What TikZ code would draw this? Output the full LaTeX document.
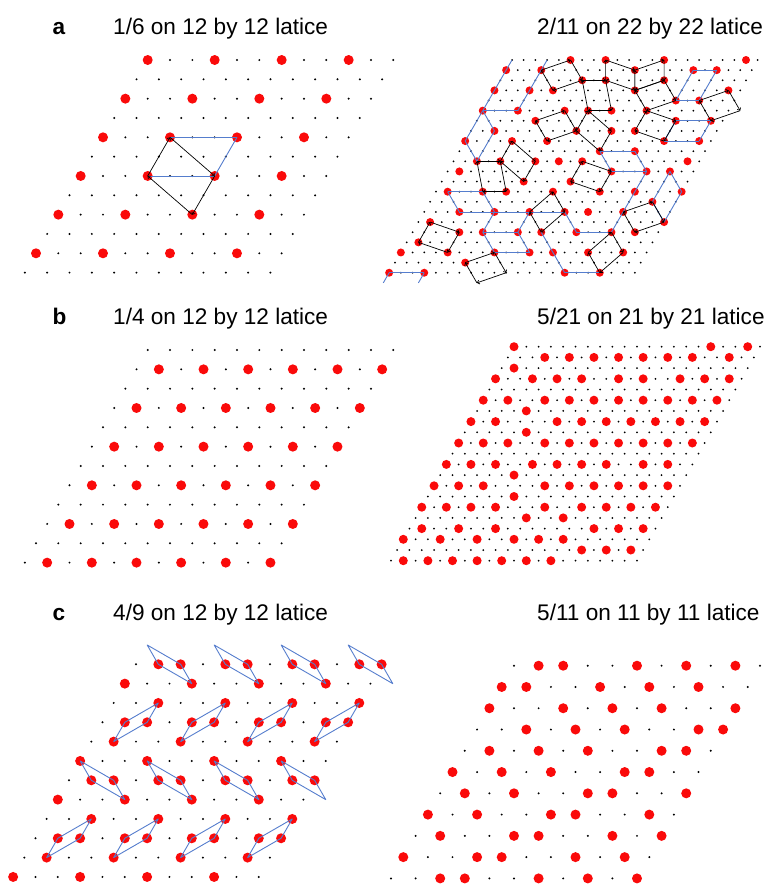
\documentclass[tikz,border=0pt]{standalone}
\usepackage{fontspec}
\setmainfont{Liberation Sans}
\usetikzlibrary{arrows.meta}
\definecolor{sitered}{RGB}{250,10,10}
\definecolor{chainblue}{RGB}{85,125,205}

\begin{document}
\begin{tikzpicture}[x=1pt,y=-1pt,
    title/.style={anchor=base west, inner sep=0pt, font=\fontsize{22.6}{26}\selectfont},
    tag/.style={anchor=base west, inner sep=0pt, font=\fontsize{22.6}{26}\selectfont\bfseries},
    loopline/.style={draw=black, line width=0.7pt, -{Straight Barb[length=2pt,width=4pt]}},
    chain/.style={draw=chainblue, line width=0.9pt, line join=round}
]
\useasboundingbox (0,0) rectangle (767,884);

\node[tag] (tagA) at (52.5,34) {a};
\node[title] (titleAL) at (113,34) {1/6 on 12 by 12 latice};
\node[title] (titleAR) at (537,34) {2/11 on 22 by 22 latice};
\node[tag] (tagB) at (52.5,324) {b};
\node[title] (titleBL) at (113,324) {1/4 on 12 by 12 latice};
\node[title] (titleBR) at (537,324) {5/21 on 21 by 21 latice};
\node[tag] (tagC) at (52.5,620.5) {c};
\node[title] (titleCL) at (113,620.5) {4/9 on 12 by 12 latice};
\node[title] (titleCR) at (537,620.5) {5/11 on 11 by 11 latice};

% a, 12 by 12
\begin{scope}[shift={(147.7,60)}, x={(22.33pt,0pt)}, y={(-11.17pt,-19.33pt)}]
\foreach \r in {0,...,11} \foreach \i in {0,...,11} {
  \coordinate (aL-\r-\i) at (\i,\r);
  \fill (aL-\r-\i) circle[radius=1.1pt];
}
\foreach \r in {0,2,...,10} \foreach \i in {0,3,6,9} \fill[sitered] (aL-\r-\i) circle[radius=5pt];
\foreach \p/\q in {4-3/4-6, 4-6/6-6, 6-6/6-3} \draw[chain] (aL-\p) -- (aL-\q);
\foreach \p/\q in {4-3/6-6, 6-6/8-6, 8-6/6-3, 6-3/4-3} \draw[loopline] (aL-\p) -- (aL-\q);
\end{scope}

% a, 22 by 22
\begin{scope}[shift={(512,60)}, x={(11.7pt,0pt)}, y={(-5.85pt,-10.13pt)}]
\foreach \r in {0,...,22} \foreach \i in {0,...,22} \coordinate (aR-\r-\i) at (\i,\r);
\foreach \r in {0,...,21} \foreach \i in {0,...,21} \fill (aR-\r-\i) circle[radius=1pt];
\foreach \r/\cols in {0/{5,8,13,20}, 1/{0,3,11,16,18}, 2/{7,9,14}, 3/{0,3,5,12,20},
    4/{16,18}, 5/{0,3,7,9,11,14}, 6/{5,17,20}, 7/{2,9,12,14}, 8/{0,4,7,17,20},
    9/{12,15}, 10/{2,4,7,9,11,20}, 11/{1,14,17,19}, 12/{7,11}, 13/{1,4,6,10,14,17,21},
    14/{19}, 15/{3,6,9,12,14,17}, 16/{1,21}, 17/{4,6,9,11,14,17,19}, 18/{1},
    19/{0,4,8,11,13,16,19}, 20/{6}, 21/{0,3,15,18}}
  {\foreach \i in \cols \fill[sitered] (aR-\r-\i) circle[radius=4pt];}
\foreach \p/\q in {0-0/5-0, 5-0/5-3, 5-3/0-3, 21-0/21-3, 21-0/22-0, 21-3/22-3,
    5-0/7-2, 7-2/10-2, 10-2/8-0, 8-0/5-0,
    1-16/1-18, 1-18/4-18, 4-18/4-16, 4-16/1-16,
    6-17/6-20, 6-20/8-20, 8-20/8-17, 8-17/6-17,
    9-12/9-15, 9-15/11-17, 11-17/11-14, 11-14/9-12,
    11-17/17-17, 17-17/17-14, 17-14/15-12,
    11-19/13-21, 13-21/16-21, 16-21/14-19, 14-19/11-19,
    13-1/13-4, 13-4/15-6, 15-6/15-3, 15-3/13-1,
    15-6/15-9, 15-9/15-12, 15-6/17-6, 17-6/17-9, 17-9/15-9,
    17-9/19-11, 19-11/19-8, 19-8/17-6,
    17-11/21-15, 21-15/21-18}
  \draw[chain] (aR-\p) -- (aR-\q);
\foreach \p/\q/\s/\t in {1-3/0-5/2-7/3-5, 0-8/1-11/3-12/2-9, 1-11/0-13/2-14/3-12,
    4-18/3-20/5-22/6-20, 5-14/6-17/8-17/7-14, 10-2/10-4/13-6/13-4,
    15-9/13-10/15-12/17-11, 16-1/17-4/19-4/18-1, 20-6/19-8/21-10/22-8,
    10-11/11-14/13-14/12-11, 15-17/14-19/16-21/17-19, 19-16/17-17/19-19/21-18,
    6-5/5-7/7-9/8-7, 8-4/10-7/12-7/10-4, 2-7/2-9/5-11/5-9, 5-9/7-12/9-12/7-9,
    3-12/2-14/4-16/5-14}
  {\draw[loopline] (aR-\p) -- (aR-\q);
   \draw[loopline] (aR-\q) -- (aR-\s);
   \draw[loopline] (aR-\s) -- (aR-\t);
   \draw[loopline] (aR-\t) -- (aR-\p);}
\end{scope}

% b, 12 by 12
\begin{scope}[shift={(147.7,350)}, x={(22.33pt,0pt)}, y={(-11.17pt,-19.33pt)}]
\foreach \r in {0,...,11} \foreach \i in {0,...,11} {
  \coordinate (bL-\r-\i) at (\i,\r);
  \fill (bL-\r-\i) circle[radius=1.1pt];
}
\foreach \r in {1,3,...,11} \foreach \i in {1,3,...,11} \fill[sitered] (bL-\r-\i) circle[radius=5pt];
\end{scope}

% b, 21 by 21
\begin{scope}[shift={(514,346.7)}, x={(12.3pt,0pt)}, y={(-6.15pt,-10.7pt)}]
\foreach \r in {0,...,20} \foreach \i in {0,...,20} {
  \coordinate (bR-\r-\i) at (\i,\r);
  \fill (bR-\r-\i) circle[radius=1pt];
}
\foreach \r/\cols in {0/{0,16,19}, 1/{3,5,7,9,11,13,15,18}, 2/{1}, 3/{0,3,5,7,10,12,15,17,19},
    5/{0,2,5,7,9,11,13,15,17,19}, 6/{4}, 7/{0,2,7,9,11,13,15,17,19}, 8/{5},
    9/{0,2,4,7,9,11,13,15,17,19}, 11/{0,2,4,7,9,11,13,16,18}, 12/{6},
    13/{0,2,4,9,11,13,15,17,19}, 14/{7}, 15/{0,2,4,6,10,13,15,17,19}, 16/{9,12},
    17/{1,4,7,15,17,19}, 18/{0,3,6,9,11,13}, 19/{15,17,19}, 20/{1,3,5,7,9,11,13}}
  {\foreach \i in \cols \fill[sitered] (bR-\r-\i) circle[radius=4.5pt];}
\end{scope}

% c, 12 by 12
\begin{scope}[shift={(136,664.3)}, x={(22.33pt,0pt)}, y={(-11.17pt,-19.33pt)}]
\foreach \r in {0,...,11} \foreach \i in {0,...,12} \coordinate (cL-\r-\i) at (\i,\r);
\foreach \i in {0,3,6,9} \coordinate (cL-top-\i) at (\i,-1);
\foreach \r in {0,...,11} \foreach \i in {0,...,11} \fill (cL-\r-\i) circle[radius=1.1pt];
\foreach \r/\cols in {0/{1,2,4,5,7,8,10,11}, 1/{0,3,6,9}, 2/{2,5,8,11}, 3/{1,2,4,5,7,8,10,11},
    4/{1,4,7,10}, 5/{0,3,6,9}, 6/{1,2,4,5,7,8,10,11}, 7/{0,3,6,9}, 8/{2,5,8,11},
    9/{1,2,4,5,7,8,10,11}, 10/{1,4,7,10}, 11/{0,3,6,9}}
  {\foreach \i in \cols \fill[sitered] (cL-\r-\i) circle[radius=5pt];}
\foreach \a/\b/\c/\d in {0/1/2/3, 3/4/5/6, 6/7/8/9, 9/10/11/12} {
  \draw[chain] (cL-top-\a) -- (cL-0-\c) -- (cL-1-\d) -- (cL-0-\b) -- cycle;
  \draw[chain] (cL-2-\c) -- (cL-3-\c) -- (cL-4-\b) -- (cL-3-\b) -- cycle;
  \draw[chain] (cL-5-\a) -- (cL-6-\c) -- (cL-7-\d) -- (cL-6-\b) -- cycle;
  \draw[chain] (cL-8-\c) -- (cL-9-\c) -- (cL-10-\b) -- (cL-9-\b) -- cycle;
}
\end{scope}

% c, 11 by 11
\begin{scope}[shift={(514,665.7)}, x={(24.6pt,0pt)}, y={(-12.3pt,-21.27pt)}]
\foreach \r in {0,...,10} \foreach \i in {0,...,10} {
  \coordinate (cR-\r-\i) at (\i,\r);
  \fill (cR-\r-\i) circle[radius=1.1pt];
}
\foreach \r/\cols in {0/{1,2,5,7,9}, 1/{0,1,4,6,8}, 2/{0,3,5,7,10}, 3/{2,4,6,9,10},
    4/{1,3,5,8,9}, 5/{0,2,4,7,8}, 6/{1,3,6,7,10}, 7/{0,2,5,6,9}, 8/{1,4,5,8,10},
    9/{0,3,4,7,9}, 10/{2,3,6,8,10}}
  {\foreach \i in \cols \fill[sitered] (cR-\r-\i) circle[radius=5pt];}
\end{scope}
\end{tikzpicture}
\end{document}
